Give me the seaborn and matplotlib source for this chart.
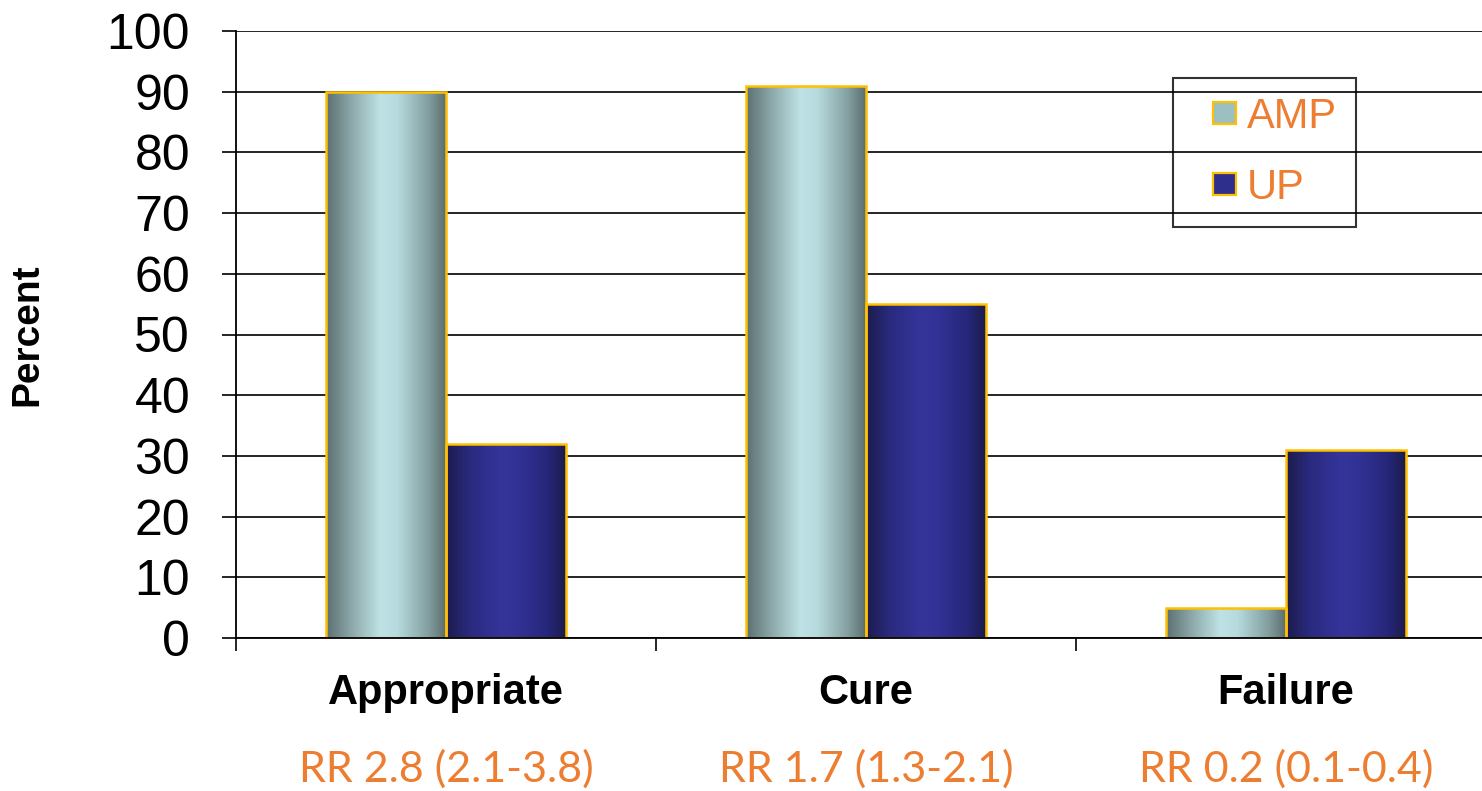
import numpy as np
import pandas as pd
import matplotlib
matplotlib.use('Agg')
import matplotlib.pyplot as plt
import matplotlib.patches as mpatches
from matplotlib.colors import LinearSegmentedColormap
from matplotlib.legend_handler import HandlerPatch
from matplotlib.transforms import blended_transform_factory
import seaborn as sns

# ===================================================
# DATA
# ===================================================
categories = ['Appropriate', 'Cure', 'Failure']
groups = ['AMP', 'UP']
amp_values = [90, 91, 5]
up_values = [32, 55, 31]
rr_labels = ['RR 2.8 (2.1-3.8)', 'RR 1.7 (1.3-2.1)', 'RR 0.2 (0.1-0.4)']
y_ticks = list(range(0, 101, 10))

df = pd.DataFrame({
    'category': categories * 2,
    'group': [groups[0]] * 3 + [groups[1]] * 3,
    'percent': amp_values + up_values,
})

# ===================================================
# STYLE
# ===================================================
sns.set_style('white')
plt.rcParams['font.family'] = ['Liberation Sans', 'DejaVu Sans']
plt.rcParams['text.color'] = 'black'
plt.rcParams['axes.labelcolor'] = 'black'
plt.rcParams['xtick.color'] = 'black'
plt.rcParams['ytick.color'] = 'black'

edge_gold = '#FFC000'
orange = '#ED7D31'
# cylinder-like shading: dark edges, light middle
amp_cmap = LinearSegmentedColormap.from_list(
    'amp', [(0, '#5B6F70'), (0.2, '#8AA5A7'), (0.45, '#BEE2E5'), (0.6, '#B6DADD'), (0.85, '#84A0A1'), (1, '#5B6E6F')])
up_cmap = LinearSegmentedColormap.from_list(
    'up', [(0, '#1C1C4C'), (0.2, '#2A2A80'), (0.45, '#34349A'), (0.6, '#323296'), (0.85, '#26267A'), (1, '#1C1C4C')])
solid = {'AMP': '#9CBFC1', 'UP': '#2E2E8C'}

# ===================================================
# PLOT
# ===================================================
fig = plt.figure(figsize=(14.82, 7.91), dpi=100)
ax = fig.add_axes([236 / 1482, 1 - 638 / 791, 1260 / 1482, 607 / 791])

sns.barplot(data=df, x='category', y='percent', hue='group', palette=solid,
            width=0.5714, errorbar=None, edgecolor=edge_gold, linewidth=1.8,
            legend=False, ax=ax)

# gradient fill clipped to each bar
grad = np.linspace(0, 1, 256).reshape(1, -1)
for cont, cmap in zip(ax.containers, [amp_cmap, up_cmap]):
    for p in cont:
        x0, w, h = p.get_x(), p.get_width(), p.get_height()
        im = ax.imshow(grad, extent=[x0, x0 + w, 0, h], aspect='auto',
                       cmap=cmap, zorder=1.5, interpolation='bilinear')
        im.set_clip_path(p)
        p.set_facecolor('none')
        p.set_zorder(2)

ax.set_xlim(-0.5, 2.5)
ax.set_ylim(0, 100)
ax.set_yticks(y_ticks)
ax.yaxis.grid(True, color='black', linewidth=1.2)
ax.set_axisbelow(True)

for s in ['top', 'right']:
    ax.spines[s].set_visible(False)
for s in ['left', 'bottom']:
    ax.spines[s].set_color('black')
    ax.spines[s].set_linewidth(1.3)
    ax.spines[s].set_zorder(3)

ax.tick_params(axis='y', direction='out', length=10, width=1.2, pad=23,
               labelsize=36, left=True, color='black')
ax.set_xticks(range(len(categories)))
ax.set_xticklabels(categories, fontsize=30, fontweight='bold')
ax.set_xticks([-0.5, 0.5, 1.5, 2.5], minor=True)
ax.tick_params(axis='x', which='major', length=0, pad=25)
ax.tick_params(axis='x', which='minor', direction='out', length=9, width=1.2,
               bottom=True, color='black')

ax.set_xlabel('')
ax.set_ylabel('Percent', fontsize=28, fontweight='bold')
ax.yaxis.set_label_coords(-0.151, 0.5)

# relative risk labels under each category
trans = blended_transform_factory(ax.transData, ax.transAxes)
for i, lab in enumerate(rr_labels):
    ax.text(i, -0.216, lab, transform=trans, ha='center', va='center',
            fontsize=31, color=orange, family=['Lato', 'DejaVu Sans'])

# ===================================================
# LEGEND
# ===================================================
def small_square(legend, orig_handle, xdescent, ydescent, width, height, fontsize):
    s = 0.53 * fontsize
    return mpatches.Rectangle((width - s - xdescent, (height - s) / 2 - ydescent), s, s)

handles = [mpatches.Patch(facecolor=solid[g], edgecolor=edge_gold, linewidth=1.6) for g in groups]
leg = fig.legend(handles, groups, loc='upper left', bbox_to_anchor=(1173 / 1482, 1 - 78 / 791),
                 fontsize=30, frameon=True, fancybox=False, borderpad=0.45,
                 borderaxespad=0, labelspacing=0.75, handlelength=1.05,
                 handletextpad=0.28,
                 handler_map={mpatches.Patch: HandlerPatch(patch_func=small_square)})
leg.get_frame().set_edgecolor('black')
leg.get_frame().set_linewidth(1.5)
leg.get_frame().set_facecolor('none')
for t in leg.get_texts():
    t.set_color(orange)

plt.savefig('out.png', dpi=100, facecolor='white')
